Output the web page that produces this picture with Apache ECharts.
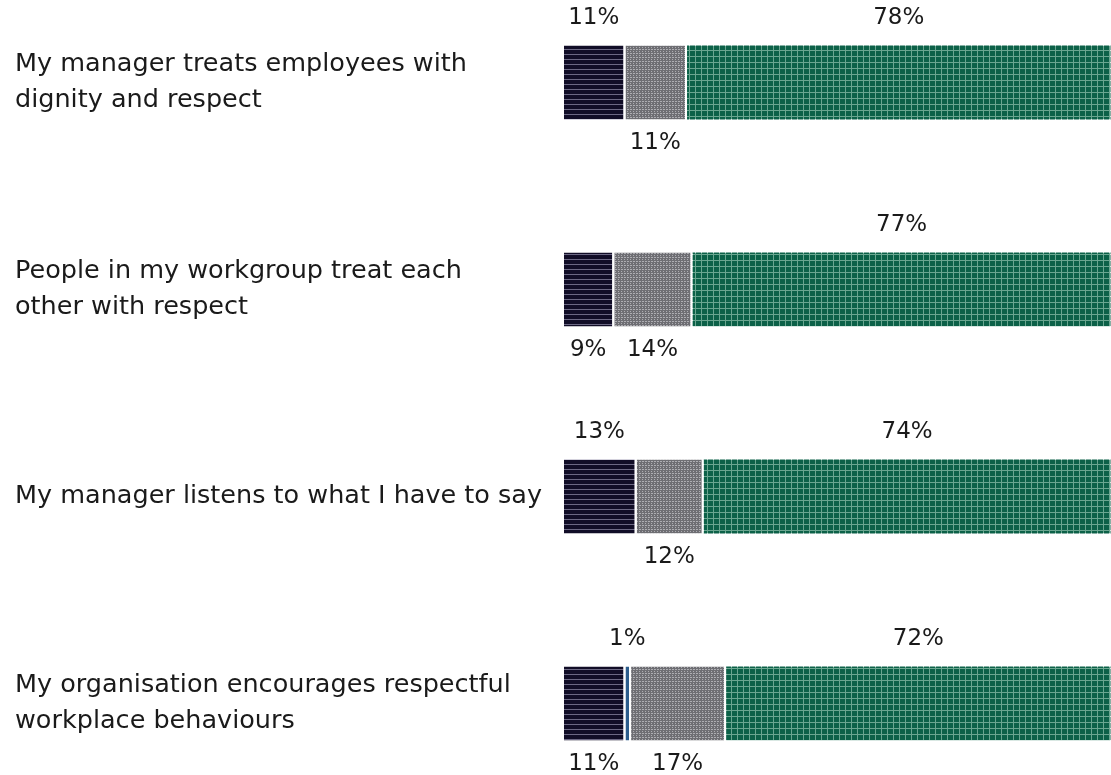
<!DOCTYPE html>
<html>
<head>
<meta charset="utf-8">
<script src="https://cdn.jsdelivr.net/npm/echarts@6/dist/echarts.min.js"></script>
<style>
  html, body { margin: 0; padding: 0; background: #fff; overflow: hidden; width: 1111px; height: 775px; }
  /* chart is taller than the window so the four bands land where the original has them */
  #chart { position: absolute; left: 0; top: -21px; width: 1111px; height: 828px; }
</style>
</head>
<body>
<div id="chart"></div>
<script>
// questions, top to bottom
const categories = [
  'My manager treats employees with\ndignity and respect',
  'People in my workgroup treat each\nother with respect',
  'My manager listens to what I have to say',
  'My organisation encourages respectful\nworkplace behaviours'
];
const disagree = [11, 9, 13, 11];
const dontKnow = ['-', '-', '-', 1];
const neutral = [11, 14, 12, 17];
const agree = [78, 77, 74, 72];

// where each value label sits (above or below the bar)
const disagreePos = ['top', 'bottom', 'top', 'bottom'];
const dontKnowPos = ['top', 'top', 'top', 'top'];
const neutralPos = ['bottom', 'bottom', 'bottom', 'bottom'];
const agreePos = ['top', 'top', 'top', 'top'];

const FONT = 'DejaVu Sans';

function withPos(values, pos) {
  return values.map((v, i) => ({
    value: v,
    label: { position: pos[i], distance: pos[i] === 'top' ? 15 : 11 }
  }));
}

function makeSeries(name, values, pos, color, decal) {
  return {
    name: name,
    type: 'bar',
    stack: 'all',
    barWidth: 76,
    data: withPos(values, pos),
    itemStyle: { color: color, borderColor: '#fff', borderWidth: 1, decal: decal },
    label: {
      show: true,
      formatter: '{c}%',
      color: '#1a1a1a',
      fontFamily: FONT,
      fontSize: 23
    }
  };
}

let myChart = echarts.init(document.getElementById('chart'));
let option = {
  animation: false,
  aria: { enabled: true, decal: { show: true } },
  grid: { left: 563, right: 0, top: 0, bottom: 0, containLabel: false },
  xAxis: { type: 'value', min: 0, max: 98, show: false },
  yAxis: {
    type: 'category',
    inverse: true,
    data: categories,
    axisLine: { show: false },
    axisTick: { show: false },
    splitLine: { show: false },
    axisLabel: {
      align: 'left',
      margin: 548,
      color: '#1a1a1a',
      fontFamily: FONT,
      fontSize: 25.5,
      lineHeight: 36,
      padding: [10, 0, 0, 0]
    }
  },
  series: [
    makeSeries('Disagree', disagree, disagreePos, '#110d27', {
      symbol: 'rect', symbolSize: 1, color: 'rgba(200,195,225,0.5)',
      dashArrayX: [[1, 0]], dashArrayY: [1, 4], rotation: 0
    }),
    makeSeries("Don't know", dontKnow, dontKnowPos, '#2c5d8c', {
      symbol: 'rect', symbolSize: 1, color: 'rgba(160,200,230,0.5)',
      dashArrayX: [1, 2], dashArrayY: [[1, 0]], rotation: 0
    }),
    makeSeries('Neutral', neutral, neutralPos, '#6e6e73', {
      symbol: 'rect', symbolSize: 1, color: 'rgba(215,215,220,0.6)',
      dashArrayX: [[2, 1], [1, 2]], dashArrayY: [1, 1], rotation: 0
    }),
    makeSeries('Agree', agree, agreePos, '#6aa690', {
      symbol: 'rect', symbolSize: 1, color: '#0c6148',
      dashArrayX: [4.5, 1], dashArrayY: [4.5, 1], rotation: 0
    })
  ]
};
myChart.setOption(option);
</script>
</body>
</html>
